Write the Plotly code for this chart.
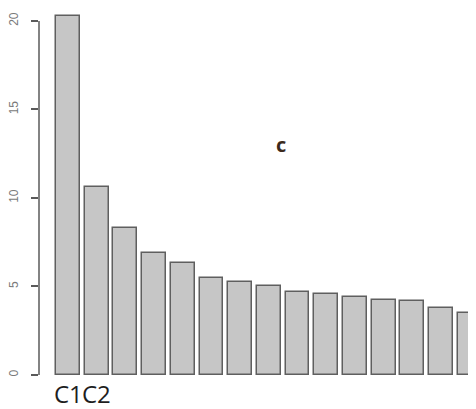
import plotly.graph_objects as go

# bar heights (first 15 components, last one cut by the frame)
components = list(range(15))
variance = [20.3, 10.6, 8.3, 6.9, 6.3, 5.5, 5.23, 5.0, 4.67, 4.56, 4.39, 4.22, 4.16, 3.77, 3.49]
label_pos = [0, 1]
label_text = ['C1', 'C2']
y_ticks = [0, 5, 10, 15, 20]

fig = go.Figure()
fig.add_trace(go.Bar(
    x=components, y=variance,
    width=1 / 1.2,
    marker=dict(color='#c6c6c6', line=dict(color='#5f5f5f', width=1.5)),
    showlegend=False,
))

# R style axis line that only runs from the first to the last tick
fig.add_shape(type='line', xref='paper', yref='y', x0=0, x1=0,
              y0=y_ticks[0], y1=y_ticks[-1],
              line=dict(color='#5a5a5a', width=1.5))

# big component names under the first two bars
for pos, txt in zip(label_pos, label_text):
    fig.add_annotation(text=txt, x=pos, xref='x', yref='paper', y=-0.036,
                       yanchor='middle', showarrow=False,
                       font=dict(family='Open Sans', size=24, color='#1e1e1e'))

fig.add_annotation(text='<b>c</b>', xref='paper', yref='paper', x=0.554, y=0.675,
                   showarrow=False, font=dict(family='Open Sans', size=20, color='#3b2a1c'))

fig.update_xaxes(range=[-1.011, 14.22], showticklabels=False, automargin=False,
                 showline=False, showgrid=False, zeroline=False, ticks='')
fig.update_yaxes(range=[-0.282, 20.73], tickvals=y_ticks, tickangle=-90,
                 automargin=False,
                 showline=False, showgrid=False, zeroline=False,
                 ticks='outside', ticklen=7, tickwidth=1.5, tickcolor='#5a5a5a',
                 ticklabelstandoff=8,
                 tickfont=dict(family='Liberation Sans', size=12, color='#7a7a7a'))

# page body keeps its 8px default margin, so the figure is 8px smaller each way
fig.update_layout(width=468, height=401, margin=dict(l=31, r=0, t=0, b=29),
                  plot_bgcolor='white', paper_bgcolor='white', bargap=0)

fig.write_html("out.html")
